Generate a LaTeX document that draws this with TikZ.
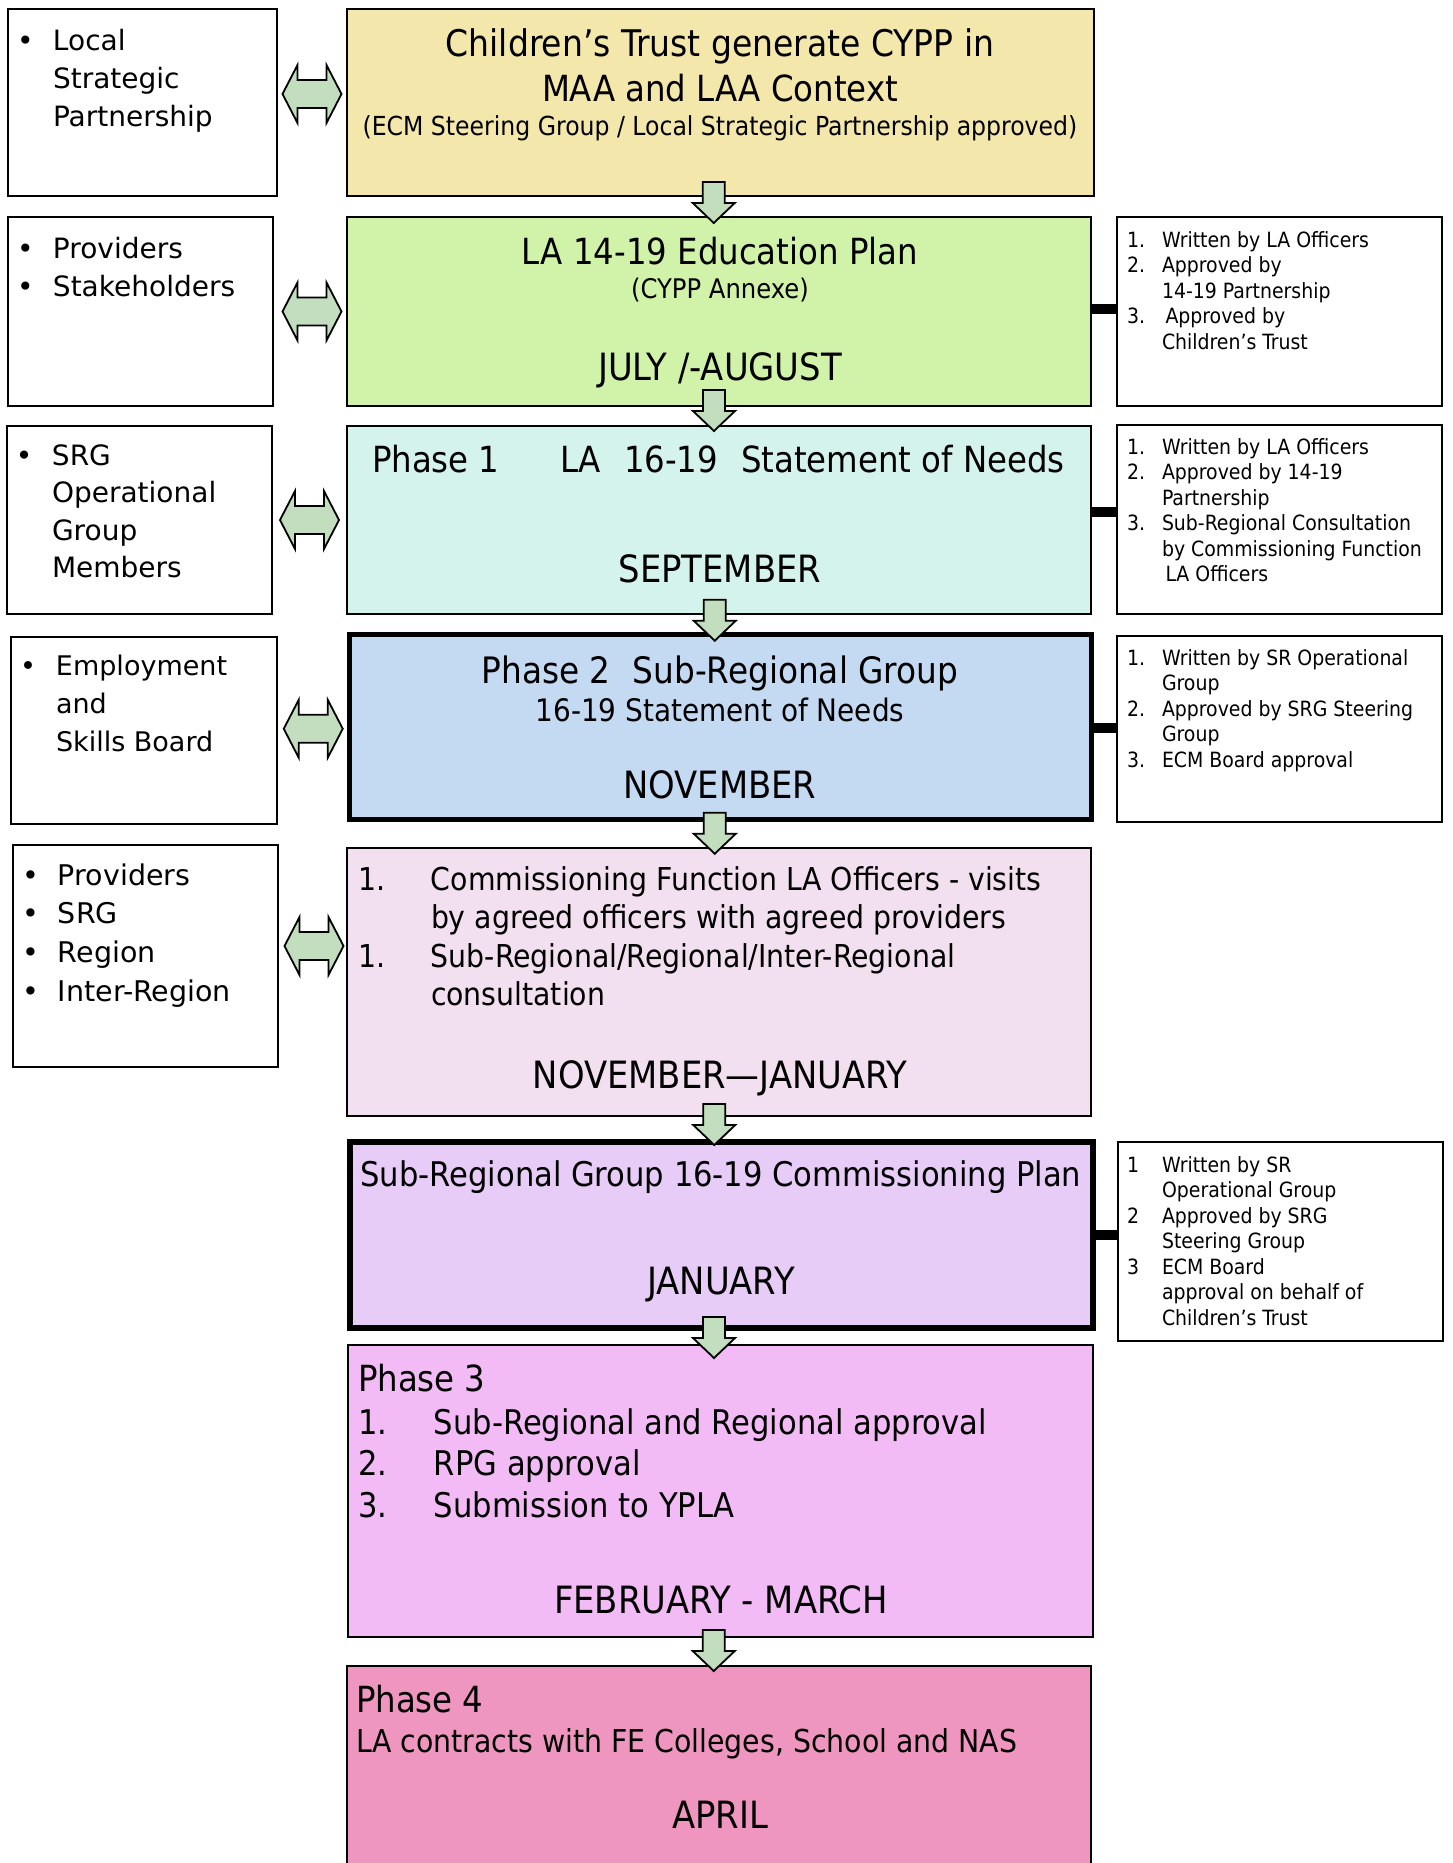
\documentclass[tikz,border=0pt]{standalone}
\usepackage{fontspec}
\setmainfont{DejaVu Sans}
\newfontfamily\cnd{DejaVu Sans Condensed}
\usetikzlibrary{calc}

\definecolor{cyellow}{RGB}{243,231,171}
\definecolor{cgreen}{RGB}{208,243,169}
\definecolor{ccyan}{RGB}{211,243,236}
\definecolor{cblue}{RGB}{196,217,242}
\definecolor{cmist}{RGB}{242,224,240}
\definecolor{clilac}{RGB}{230,204,247}
\definecolor{cpink}{RGB}{242,187,245}
\definecolor{crose}{RGB}{238,150,191}
\definecolor{carrow}{RGB}{195,222,190}

% list helpers: bullet column, empty indent, number column
\newcommand\bulitem{\makebox[36pt][l]{•}}
\newcommand\bulgap{\hspace*{36pt}}
\newcommand\nlab[1]{\makebox[35pt][l]{#1}}

\tikzset{
  box/.style={draw=black, line width=2.7pt, inner sep=0pt, outer sep=0pt, anchor=north west},
  heavy/.style={box, line width=5.5pt},
  blockarrow/.style={draw=black, line width=1.8pt, fill=carrow, line join=miter},
  bar/.style={draw=black, line width=10pt},
  txt/.style={inner sep=0pt, outer sep=0pt},
  sidetxt/.style={txt, anchor=base west, font=\fontsize{28}{38}\selectfont},
  notetxt/.style={txt, anchor=base west, font=\cnd\fontsize{21}{25.5}\selectfont},
  head/.style={txt, anchor=base, font=\cnd\fontsize{36}{45}\selectfont},
  month/.style={txt, anchor=base, font=\cnd\fontsize{37.6}{45}\selectfont},
  sub/.style={txt, anchor=base, font=\cnd\fontsize{26.2}{30}\selectfont},
  downarr/.pic={\path[blockarrow] (-11,-21) -- (11,-21) -- (11,0) -- (21,0) -- (0,20) -- (-21,0) -- (-11,0) -- cycle;},
  dblarr/.pic={\path[blockarrow] (-29.5,0) -- (-14.5,-29) -- (-14.5,-14) -- (14.5,-14) -- (14.5,-29) -- (29.5,0) -- (14.5,29) -- (14.5,14) -- (-14.5,14) -- (-14.5,29) -- cycle;},
}

\begin{document}
\begin{tikzpicture}[x=1pt,y=-1pt]
\useasboundingbox (0,0) rectangle (1452,1863);
\clip (0,0) rectangle (1452,1863);

% ---------- partner boxes (left) ----------
\node[box, minimum width=269pt, minimum height=187pt] (l1) at (8,9) {};
\node[box, minimum width=265pt, minimum height=189pt] (l2) at (8,217) {};
\node[box, minimum width=265pt, minimum height=188pt] (l3) at (7,426) {};
\node[box, minimum width=266pt, minimum height=187pt] (l4) at (11,637) {};
\node[box, minimum width=265pt, minimum height=222pt] (l5) at (13,845) {};

% ---------- process stages (centre) ----------
\node[box, fill=cyellow, minimum width=747pt, minimum height=187pt] (c1) at (347,9) {};
\node[box, fill=cgreen, minimum width=744pt, minimum height=189pt] (c2) at (347,217) {};
\node[box, fill=ccyan, minimum width=744pt, minimum height=188pt] (c3) at (347,426) {};
\node[heavy, fill=cblue, minimum width=742pt, minimum height=185pt] (c4) at (349.5,634.5) {};
\node[box, fill=cmist, minimum width=744pt, minimum height=268pt] (c5) at (347,848) {};
\node[heavy, fill=clilac, minimum width=743pt, minimum height=186pt] (c6) at (350,1142) {};
\node[box, fill=cpink, minimum width=745pt, minimum height=292pt] (c7) at (348,1345) {};
\node[box, fill=crose, minimum width=744pt, minimum height=220pt] (c8) at (347,1666) {};

% ---------- approval notes (right) ----------
\node[box, minimum width=325pt, minimum height=189pt] (r1) at (1117,217) {};
\node[box, minimum width=325pt, minimum height=189pt] (r2) at (1117,425) {};
\node[box, minimum width=325pt, minimum height=186pt] (r3) at (1117,636) {};
\node[box, minimum width=325pt, minimum height=199pt] (r4) at (1118,1142) {};

% ---------- links to the notes ----------
\draw[bar] ($(r1.west)+(0,-2.5)$) coordinate (b1) -- (b1 -| c2.east);
\draw[bar] ($(r2.west)+(0,-7.5)$) coordinate (b2) -- (b2 -| c3.east);
\draw[bar] ($(r3.west)+(0,-1)$) coordinate (b3) -- (b3 -| c4.east);
\draw[bar] ($(r4.west)+(0,-6.5)$) coordinate (b4) -- (b4 -| c6.east);

% ---------- flow arrows between stages ----------
\coordinate (d1) at ($(c1.south)!.5!(c2.north)+(-6,-3.5)$);
\coordinate (d2) at ($(c2.south)!.5!(c3.north)+(-5,-5)$);
\coordinate (d3) at ($(c3.south)!.5!(c4.north)+(-5,-3.5)$);
\coordinate (d4) at ($(c4.south)!.5!(c5.north)+(-5,0)$);
\coordinate (d5) at ($(c5.south)!.5!(c6.north)+(-6,-4)$);
\coordinate (d6) at ($(c6.south)!.5!(c7.north)+(-7,1.5)$);
\coordinate (d7) at ($(c7.south)!.5!(c8.north)+(-6,-0.5)$);
\foreach \d in {d1,d2,d3,d4,d5,d6,d7} {\pic at (\d) {downarr};}

% ---------- two-way arrows to partners ----------
\coordinate (h1) at ($(l1.east)!.5!(c1.west)+(0,-8.5)$);
\coordinate (h2) at ($(l2.east)!.5!(c2.west)+(2,0)$);
\coordinate (h3) at ($(l3.east)!.5!(c3.west)$);
\coordinate (h4) at ($(l4.east)!.5!(c4.west)$);
\coordinate (h5) at ($(l5.east)!.5!(c5.west)+(1.5,-23)$);
\foreach \h in {h1,h2,h3,h4,h5} {\pic at (\h) {dblarr};}

% ---------- partner texts ----------
\node[sidetxt] (s1) at (17,50) {\begin{tabular}[t]{@{}l@{}}\bulitem Local\\ \bulgap Strategic\\ \bulgap Partnership\end{tabular}};
\node[sidetxt] (s2) at (17,258) {\begin{tabular}[t]{@{}l@{}}\bulitem Providers\\ \bulitem Stakeholders\end{tabular}};
\node[sidetxt, font=\fontsize{28}{37.5}\selectfont] (s3) at (16,465) {\begin{tabular}[t]{@{}l@{}}\bulitem SRG\\ \bulgap Operational\\ \bulgap Group\\ \bulgap Members\end{tabular}};
\node[sidetxt, font=\fontsize{27}{38}\selectfont] (s4) at (20,675) {\begin{tabular}[t]{@{}l@{}}\bulitem Employment\\ \bulgap and\\ \bulgap Skills Board\end{tabular}};
\node[sidetxt, font=\fontsize{28.5}{38.7}\selectfont] (s5) at (22,885) {\begin{tabular}[t]{@{}l@{}}\bulitem Providers\\ \bulitem SRG\\ \bulitem Region\\ \bulitem Inter-Region\end{tabular}};

% ---------- stage texts ----------
\node[head, font=\cnd\fontsize{36.7}{45}\selectfont] (t1a) at (720,56) {Children’s Trust generate CYPP in};
\node[head] (t1b) at (720,101) {MAA and LAA Context};
\node[sub] (t1c) at (720,135) {(ECM Steering Group / Local Strategic Partnership approved)};

\node[head] (t2a) at (720,264) {LA 14-19 Education Plan};
\node[sub, font=\cnd\fontsize{27}{30}\selectfont] (t2b) at (720,298) {(CYPP Annexe)};
\node[month] (t2c) at (720,380) {JULY /-AUGUST};

\node[head, anchor=base west] (t3a) at (372,472) {Phase 1};
\node[head, anchor=base west] (t3b) at (560,472) {LA};
\node[head, anchor=base west] (t3c) at (624,472) {16-19};
\node[head, anchor=base west] (t3d) at (741,472) {Statement of Needs};
\node[month] (t3e) at (720,582) {SEPTEMBER};

\node[head, font=\cnd\fontsize{36.4}{45}\selectfont] (t4a) at (720,683) {Phase 2\hspace{22pt}Sub-Regional Group};
\node[head, font=\cnd\fontsize{31}{38}\selectfont] (t4b) at (720,721) {16-19 Statement of Needs};
\node[month] (t4c) at (720,798) {NOVEMBER};

\node[txt, anchor=base west, font=\cnd\fontsize{31.5}{38.5}\selectfont] (t5a) at (358,890)
  {\begin{tabular}[t]{@{}l@{}}\makebox[73pt][l]{1.}Commissioning Function LA Officers - visits\\
   \hspace*{73pt}by agreed officers with agreed providers\\
   \makebox[73pt][l]{1.}Sub-Regional/Regional/Inter-Regional\\
   \hspace*{73pt}consultation\end{tabular}};
\node[month] (t5b) at (720,1088) {NOVEMBER—JANUARY};

\node[head, font=\cnd\fontsize{34}{42}\selectfont] (t6a) at (721,1186) {Sub-Regional Group 16-19 Commissioning Plan};
\node[month] (t6b) at (721,1294) {JANUARY};

\node[head, anchor=base west] (t7a) at (358,1391) {Phase 3};
\node[txt, anchor=base west, font=\cnd\fontsize{34}{41.5}\selectfont] (t7b) at (358,1434)
  {\begin{tabular}[t]{@{}l@{}}\makebox[76pt][l]{1.}Sub-Regional and Regional approval\\
   \makebox[76pt][l]{2.}RPG approval\\
   \makebox[76pt][l]{3.}Submission to YPLA\end{tabular}};
\node[month] (t7c) at (721,1613) {FEBRUARY - MARCH};

\node[head, anchor=base west] (t8a) at (356,1712) {Phase 4};
\node[txt, anchor=base west, font=\cnd\fontsize{31.5}{38}\selectfont] (t8b) at (356,1752) {LA contracts with FE Colleges, School and NAS};
\node[month] (t8c) at (720,1828) {APRIL};

% ---------- approval texts ----------
\node[notetxt] (n1) at (1127,247) {\begin{tabular}[t]{@{}l@{}}\nlab{1.}Written by LA Officers\\ \nlab{2.}Approved by\\ \nlab{}14-19 Partnership\\ \nlab{3.}\,Approved by\\ \nlab{}Children’s Trust\end{tabular}};
\node[notetxt] (n2) at (1127,454) {\begin{tabular}[t]{@{}l@{}}\nlab{1.}Written by LA Officers\\ \nlab{2.}Approved by 14-19\\ \nlab{}Partnership\\ \nlab{3.}Sub-Regional Consultation\\ \nlab{}by Commissioning Function\\ \nlab{}\,LA Officers\end{tabular}};
\node[notetxt] (n3) at (1127,665) {\begin{tabular}[t]{@{}l@{}}\nlab{1.}Written by SR Operational\\ \nlab{}Group\\ \nlab{2.}Approved by SRG Steering\\ \nlab{}Group\\ \nlab{3.}ECM Board approval\end{tabular}};
\node[notetxt] (n4) at (1127,1172) {\begin{tabular}[t]{@{}l@{}}\nlab{1}Written by SR\\ \nlab{}Operational Group\\ \nlab{2}Approved by SRG\\ \nlab{}Steering Group\\ \nlab{3}ECM Board\\ \nlab{}approval on behalf of\\ \nlab{}Children’s Trust\end{tabular}};
\end{tikzpicture}
\end{document}
